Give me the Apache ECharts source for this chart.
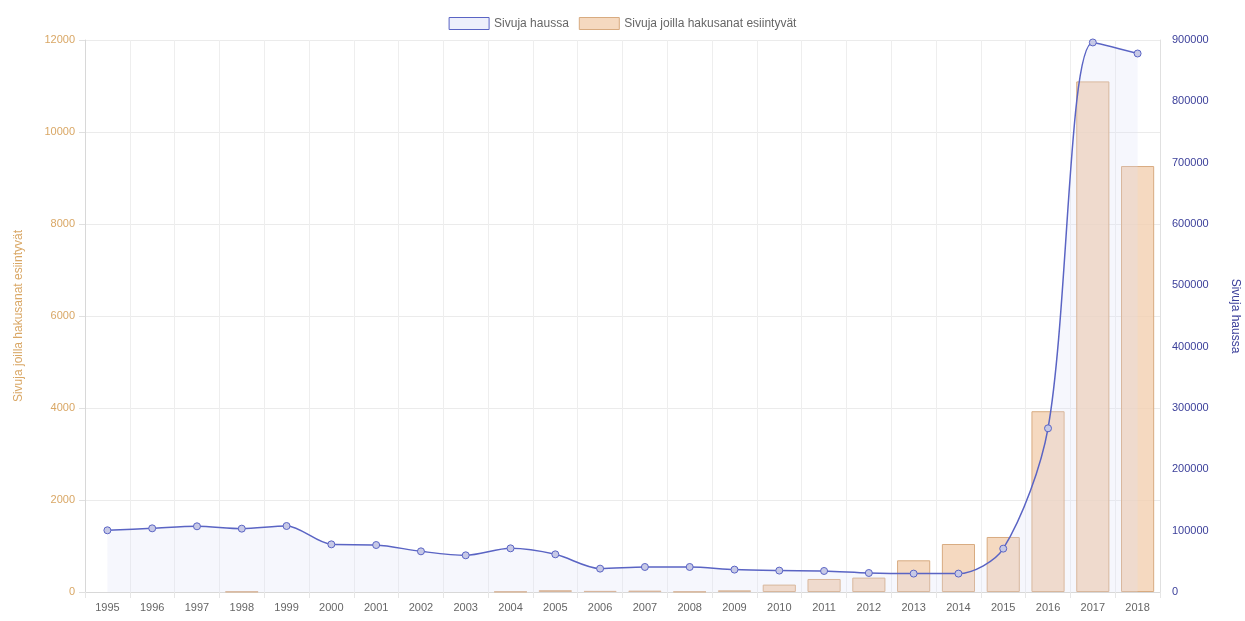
<!DOCTYPE html>
<html>
<head>
<meta charset="utf-8">
<script src="https://cdn.jsdelivr.net/npm/echarts@6/dist/echarts.min.js"></script>
<style>
  html, body { margin: 0; padding: 0; background: #fff; }
  #main { width: 1245px; height: 621px; }
</style>
</head>
<body>
<div id="main"></div>
<script>
// vuodet
var years = ["1995", "1996", "1997", "1998", "1999", "2000", "2001", "2002",
  "2003", "2004", "2005", "2006", "2007", "2008", "2009", "2010", "2011",
  "2012", "2013", "2014", "2015", "2016", "2017", "2018"];
// Sivuja haussa (oikea akseli)
var pagesTotal = [100600, 103800, 107100, 103300, 107600, 77700, 76600, 66300,
  59800, 71200, 61400, 38100, 40800, 40800, 36500, 34900, 34300,
  31000, 30000, 30000, 70700, 266900, 896000, 878000];
// Sivuja joilla hakusanat esiintyvät (vasen akseli), null = ei palkkia
var pagesHits = [null, null, null, 10, null, null, null, null,
  null, 10, 40, 25, 30, 10, 37, 161, 283,
  313, 689, 1043, 1196, 3930, 11100, 9260];

var chart = echarts.init(document.getElementById("main"));
var font = "Liberation Sans";
var plain = function (v) { return String(v); };

var option = {
  animation: false,
  textStyle: { fontFamily: font },
  legend: {
    top: 12,
    left: "center",
    itemWidth: 40,
    itemHeight: 12,
    itemGap: 10,
    textStyle: { color: "#666", fontSize: 12, fontFamily: font },
    data: [
      {
        name: "Sivuja haussa",
        icon: "rect",
        itemStyle: { color: "rgba(225,228,248,0.6)", borderColor: "#5a64c4", borderWidth: 1 }
      },
      {
        name: "Sivuja joilla hakusanat esiintyvät",
        icon: "rect",
        itemStyle: { color: "rgba(242,208,176,0.8)", borderColor: "#d8ab80", borderWidth: 1 }
      }
    ]
  },
  grid: { left: 85, right: 85, top: 40, bottom: 29, containLabel: false, outerBoundsMode: "none" },
  xAxis: {
    type: "category",
    data: years,
    boundaryGap: true,
    axisLine: { show: true, lineStyle: { color: "#d8d8d8" } },
    axisTick: { show: true, length: 6, lineStyle: { color: "#e6e6e6" } },
    axisLabel: { color: "#666", fontSize: 11, margin: 10 },
    splitLine: { show: true, lineStyle: { color: "#eeeeee" } }
  },
  yAxis: [
    {
      type: "value",
      position: "left",
      min: 0,
      max: 12000,
      interval: 2000,
      name: "Sivuja joilla hakusanat esiintyvät",
      nameLocation: "middle",
      nameRotate: 90,
      nameGap: 60,
      nameTextStyle: { color: "#d9a765", fontSize: 12 },
      axisLine: { show: true, lineStyle: { color: "#d8d8d8" } },
      axisTick: { show: true, length: 6, lineStyle: { color: "#e0e0e0" } },
      axisLabel: { color: "#d9a765", fontSize: 11, margin: 10, formatter: plain },
      splitLine: { show: true, lineStyle: { color: "#ebebeb" } }
    },
    {
      type: "value",
      position: "right",
      min: 0,
      max: 900000,
      interval: 100000,
      name: "Sivuja haussa",
      nameLocation: "middle",
      nameRotate: -90,
      nameGap: 69,
      nameTextStyle: { color: "#3b3f9a", fontSize: 12 },
      axisLine: { show: true, lineStyle: { color: "#e0e0e0" } },
      axisTick: { show: false },
      axisLabel: { color: "#3b3f9a", fontSize: 11, margin: 12, formatter: plain },
      splitLine: { show: false }
    }
  ],
  series: [
    {
      name: "Sivuja haussa",
      type: "line",
      yAxisIndex: 1,
      data: pagesTotal,
      smooth: 0.3,
      z: 5,
      symbol: "circle",
      symbolSize: 7,
      lineStyle: { color: "#5a64c4", width: 1.5 },
      itemStyle: { color: "#c7c9e6", borderColor: "#5a64c4", borderWidth: 1 },
      areaStyle: { color: "rgba(220,224,246,0.35)" }
    },
    {
      name: "Sivuja joilla hakusanat esiintyvät",
      type: "bar",
      yAxisIndex: 0,
      data: pagesHits,
      barWidth: "74%",
      z: 3,
      itemStyle: { color: "rgba(242,208,176,0.8)", borderColor: "#d8ab80", borderWidth: 1 }
    }
  ]
};

chart.setOption(option);
</script>
</body>
</html>
